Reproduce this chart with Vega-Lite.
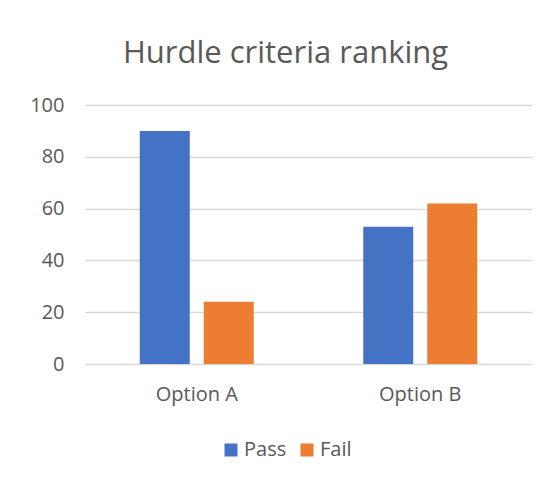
{
  "$schema": "https://vega.github.io/schema/vega-lite/v6.json",
  "width": 447,
  "height": 259,
  "autosize": {"type": "none"},
  "padding": {"left": 85, "top": 105, "right": 23, "bottom": 122},
  "background": "white",
  "title": {
    "text": "Hurdle criteria ranking",
    "font": "Open Sans",
    "fontSize": 31,
    "fontWeight": "normal",
    "color": "#595959",
    "anchor": "middle",
    "dx": -23,
    "offset": 25
  },
  "data": {
    "values": [
      {"option": "Option A", "result": "Pass", "value": 90},
      {"option": "Option A", "result": "Fail", "value": 24},
      {"option": "Option B", "result": "Pass", "value": 53},
      {"option": "Option B", "result": "Fail", "value": 62}
    ]
  },
  "mark": {"type": "bar"},
  "encoding": {
    "x": {
      "field": "option",
      "type": "nominal",
      "scale": {"paddingInner": 0.49, "paddingOuter": 0.245},
      "axis": {
        "title": null,
        "labelAngle": 0,
        "domain": false,
        "ticks": false,
        "labelPadding": 20,
        "labelFont": "Open Sans",
        "labelFontSize": 20,
        "labelColor": "#595959"
      }
    },
    "xOffset": {
      "field": "result",
      "type": "nominal",
      "sort": ["Pass", "Fail"],
      "scale": {"paddingInner": 0.21875, "paddingOuter": 0}
    },
    "y": {
      "field": "value",
      "type": "quantitative",
      "scale": {"domain": [0, 100], "nice": false},
      "axis": {
        "title": null,
        "values": [0, 20, 40, 60, 80, 100],
        "domain": false,
        "ticks": false,
        "labelPadding": 21,
        "labelFont": "Open Sans",
        "labelFontSize": 20,
        "labelColor": "#595959",
        "gridColor": "#d9d9d9",
        "gridWidth": 1.5
      }
    },
    "color": {
      "field": "result",
      "type": "nominal",
      "sort": ["Pass", "Fail"],
      "scale": {"domain": ["Pass", "Fail"], "range": ["#4472C4", "#ED7D31"]},
      "legend": {
        "title": null,
        "orient": "none",
        "direction": "horizontal",
        "legendX": 136,
        "legendY": 335,
        "symbolType": "square",
        "symbolSize": 169,
        "symbolStrokeWidth": 0,
        "labelFont": "Open Sans",
        "labelFontSize": 20,
        "labelColor": "#595959",
        "columnPadding": 10,
        "labelOffset": 3
      }
    }
  },
  "config": {
    "view": {"stroke": null}
  }
}
